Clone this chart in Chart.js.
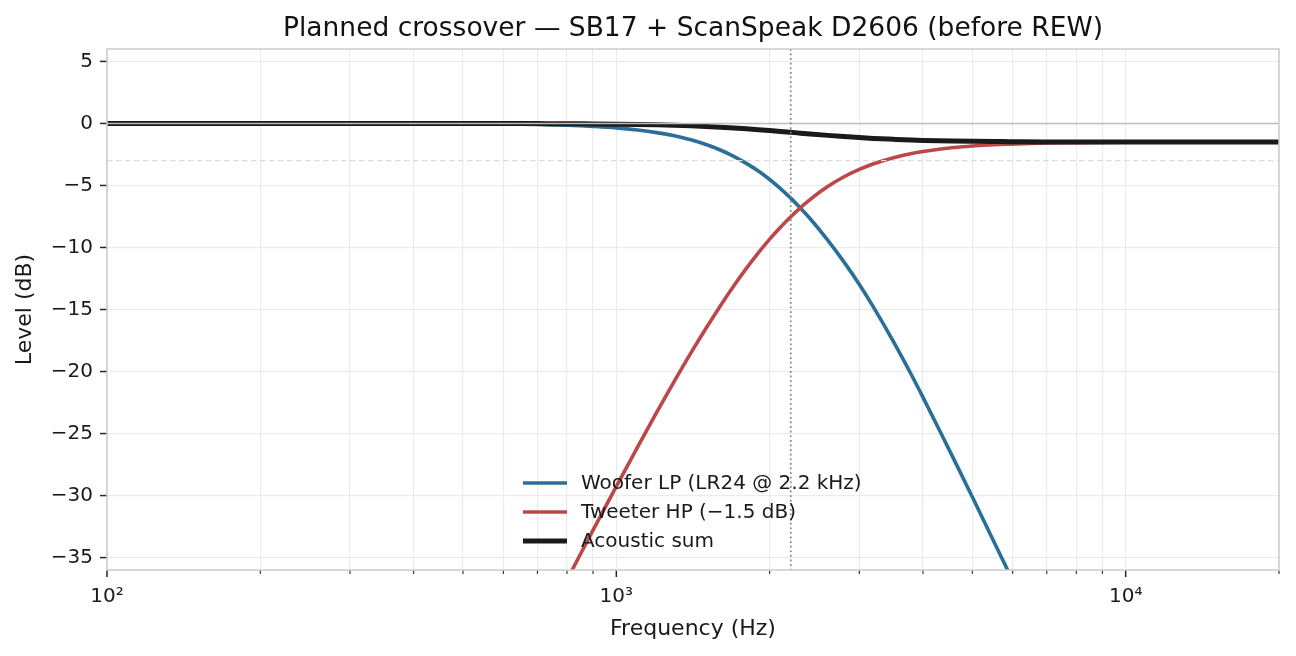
<!DOCTYPE html>
<html>
<head>
<meta charset="utf-8">
<script src="https://cdn.jsdelivr.net/npm/chart.js@4.4.1/dist/chart.umd.min.js"></script>
<style>
  html, body { margin: 0; padding: 0; background: #ffffff; }
  canvas { display: block; }
</style>
</head>
<body>
<canvas id="c" width="1296" height="656"></canvas>
<script>
// ---- data ----
const freqs = [100, 150, 200, 300, 400, 500, 600, 700, 750, 800,
  850, 900, 1000, 1100, 1200, 1300, 1400, 1500, 1600, 1700,
  1800, 1900, 2000, 2100, 2200, 2300, 2400, 2600, 2800, 3000,
  3200, 3500, 3800, 4000, 4300, 4600, 5000, 5500, 5900, 6300,
  7000, 8000, 9000, 10000, 12000, 14000, 16000, 18000, 20000];

const wooferDb = [0.0, 0.0, 0.0, -0.003, -0.01, -0.02, -0.05, -0.09, -0.12, -0.15,
  -0.19, -0.24, -0.36, -0.53, -0.74, -1.0, -1.32, -1.70, -2.14, -2.65,
  -3.22, -3.84, -4.52, -5.25, -6.02, -6.83, -7.66, -9.40, -11.18, -12.98,
  -14.83, -17.59, -20.30, -22.08, -24.65, -27.08, -30.12, -33.64, -36.23, -38.65,
  -42.5, -47.5, -52.0, -56.0, -63.0, -69.0, -74.0, -78.0, -82.0];

const tweeterDb = [-108.9, -94.8, -84.8, -70.7, -60.7, -53.0, -46.7, -41.4, -39.0, -36.80,
  -34.73, -32.79, -29.26, -26.11, -23.30, -20.78, -18.52, -16.51, -14.71, -13.11,
  -11.69, -10.44, -9.33, -8.37, -7.52, -6.78, -6.14, -5.09, -4.30, -3.71,
  -3.25, -2.76, -2.42, -2.26, -2.08, -1.94, -1.82, -1.72, -1.67, -1.63,
  -1.58, -1.55, -1.53, -1.52, -1.51, -1.5, -1.5, -1.5, -1.5];

const sumDb = [0.0, 0.0, 0.0, 0.0, 0.0, -0.002, -0.004, -0.014, -0.018, -0.024,
  -0.03, -0.038, -0.057, -0.081, -0.113, -0.151, -0.196, -0.248, -0.306, -0.37,
  -0.437, -0.507, -0.578, -0.649, -0.717, -0.784, -0.848, -0.963, -1.06, -1.14,
  -1.21, -1.28, -1.34, -1.37, -1.40, -1.42, -1.44, -1.46, -1.47, -1.48,
  -1.49, -1.5, -1.5, -1.5, -1.5, -1.5, -1.5, -1.5, -1.5];

const titleText = 'Planned crossover \u2014 SB17 + ScanSpeak D2606 (before REW)';
const seriesLabels = ['Woofer LP (LR24 @ 2.2 kHz)', 'Tweeter HP (\u22121.5 dB)', 'Acoustic sum'];
const xTickValues = [100, 200, 300, 400, 500, 600, 700, 800, 900,
  1000, 2000, 3000, 4000, 5000, 6000, 7000, 8000, 9000, 10000, 20000];
const xMajorTicks = [100, 1000, 10000];
const xMajorLabels = ['10\u00B2', '10\u00B3', '10\u2074'];
const yTickValues = [-35, -30, -25, -20, -15, -10, -5, 0, 5];
const crossoverHz = 2200;
const refLevelDb = 0;
const minus3Db = -3;

// ---- styling ----
const FONT = "'DejaVu Sans', 'Liberation Sans', sans-serif";
const COLORS = ['#2a6f97', '#bc4749', '#1a1a1a'];
const WIDTHS = [3.6, 3.6, 5];

function pts(vals) { return freqs.map((f, i) => ({ x: f, y: vals[i] })); }

const refLines = {
  id: 'refLines',
  afterDatasetsDraw(chart) {
    const { ctx, chartArea: a, scales: { x, y } } = chart;
    ctx.save();
    ctx.beginPath();
    ctx.rect(a.left, a.top, a.right - a.left, a.bottom - a.top);
    ctx.clip();
    let py = y.getPixelForValue(minus3Db);
    ctx.strokeStyle = '#dcdcdc';
    ctx.lineWidth = 1.4;
    ctx.setLineDash([5.5, 3.5]);
    ctx.beginPath(); ctx.moveTo(a.left, py); ctx.lineTo(a.right, py); ctx.stroke();
    py = y.getPixelForValue(refLevelDb);
    ctx.setLineDash([]);
    ctx.strokeStyle = '#bdbdbd';
    ctx.lineWidth = 1.4;
    ctx.beginPath(); ctx.moveTo(a.left, py); ctx.lineTo(a.right, py); ctx.stroke();
    const px = x.getPixelForValue(crossoverHz);
    ctx.strokeStyle = '#808080';
    ctx.lineWidth = 1.7;
    ctx.setLineDash([1.7, 2.9]);
    ctx.beginPath(); ctx.moveTo(px, a.top); ctx.lineTo(px, a.bottom); ctx.stroke();
    ctx.restore();

    // legend (no frame)
    ctx.save();
    ctx.font = '20px ' + FONT;
    ctx.textBaseline = 'middle';
    ctx.textAlign = 'left';
    const rows = [483, 512, 541];
    chart.data.datasets.forEach((ds, i) => {
      ctx.strokeStyle = ds.borderColor;
      ctx.lineWidth = ds.borderWidth;
      ctx.beginPath(); ctx.moveTo(523, rows[i]); ctx.lineTo(567, rows[i]); ctx.stroke();
      ctx.fillStyle = '#1a1a1a';
      ctx.fillText(ds.label, 581, rows[i] + 1);
    });
    ctx.restore();
  }
};

const frameAndTicks = {
  id: 'frameAndTicks',
  afterDraw(chart) {
    const { ctx, chartArea: a, scales: { x, y } } = chart;
    ctx.save();
    ctx.strokeStyle = '#cccccc';
    ctx.lineWidth = 1.5;
    ctx.strokeRect(a.left, a.top, a.right - a.left, a.bottom - a.top);
    ctx.strokeStyle = '#262626';
    xTickValues.forEach(v => {
      const px = x.getPixelForValue(v);
      const major = xMajorTicks.includes(v);
      ctx.lineWidth = major ? 1.5 : 1.1;
      ctx.beginPath(); ctx.moveTo(px, a.bottom + 0.75); ctx.lineTo(px, a.bottom + (major ? 7 : 4)); ctx.stroke();
    });
    yTickValues.forEach(v => {
      const py = y.getPixelForValue(v);
      ctx.lineWidth = 1.5;
      ctx.beginPath(); ctx.moveTo(a.left - 0.75, py); ctx.lineTo(a.left - 7, py); ctx.stroke();
    });
    // title centred over the plot area
    ctx.fillStyle = '#111111';
    ctx.font = '26.5px ' + FONT;
    ctx.textAlign = 'center';
    ctx.textBaseline = 'alphabetic';
    ctx.fillText(titleText, (a.left + a.right) / 2, 35.5);
    ctx.restore();
  }
};

new Chart(document.getElementById('c'), {
  type: 'line',
  data: {
    datasets: [
      { label: seriesLabels[0], data: pts(wooferDb), borderColor: COLORS[0], borderWidth: WIDTHS[0], order: 3 },
      { label: seriesLabels[1], data: pts(tweeterDb), borderColor: COLORS[1], borderWidth: WIDTHS[1], order: 2 },
      { label: seriesLabels[2], data: pts(sumDb), borderColor: COLORS[2], borderWidth: WIDTHS[2], order: 1 }
    ]
  },
  options: {
    responsive: false,
    animation: false,
    devicePixelRatio: 1,
    events: [],
    layout: { padding: { left: 0, right: 17, top: 49, bottom: 0 } },
    elements: {
      point: { radius: 0 },
      line: { cubicInterpolationMode: 'monotone', fill: false, borderCapStyle: 'butt', borderJoinStyle: 'round' }
    },
    datasets: { line: { clip: 0 } },
    plugins: {
      legend: { display: false },
      tooltip: { enabled: false },
      title: { display: false }
    },
    scales: {
      x: {
        type: 'logarithmic',
        min: 100,
        max: 20000,
        afterBuildTicks(s) { s.ticks = xTickValues.map(v => ({ value: v })); },
        afterFit(s) { s.height = 86; },
        ticks: {
          autoSkip: false,
          maxRotation: 0,
          minRotation: 0,
          padding: 8,
          color: '#1a1a1a',
          font: { family: FONT, size: 20 },
          callback(v) { const k = xMajorTicks.indexOf(Number(v)); return k >= 0 ? xMajorLabels[k] : ''; }
        },
        grid: { color: '#ebebeb', lineWidth: 1.2, drawTicks: true, tickLength: 7, tickColor: 'rgba(0,0,0,0)' },
        border: { display: false },
        title: {
          display: true,
          text: 'Frequency (Hz)',
          color: '#1a1a1a',
          font: { family: FONT, size: 22, lineHeight: 1.2 },
          padding: { top: 0, bottom: 13.8 }
        }
      },
      y: {
        type: 'linear',
        min: -36,
        max: 6,
        afterBuildTicks(s) { s.ticks = yTickValues.map(v => ({ value: v })); },
        afterFit(s) { s.width = 107; },
        ticks: {
          padding: 7,
          color: '#1a1a1a',
          font: { family: FONT, size: 20 },
          callback(v) { const n = Number(v); return n < 0 ? '\u2212' + Math.abs(n) : String(n); }
        },
        grid: { color: '#ebebeb', lineWidth: 1.2, drawTicks: true, tickLength: 7, tickColor: 'rgba(0,0,0,0)' },
        border: { display: false },
        title: {
          display: true,
          text: 'Level (dB)',
          color: '#1a1a1a',
          font: { family: FONT, size: 22, lineHeight: 1.2 },
          padding: { top: 12, bottom: 0 }
        }
      }
    }
  },
  plugins: [refLines, frameAndTicks]
});
</script>
</body>
</html>
